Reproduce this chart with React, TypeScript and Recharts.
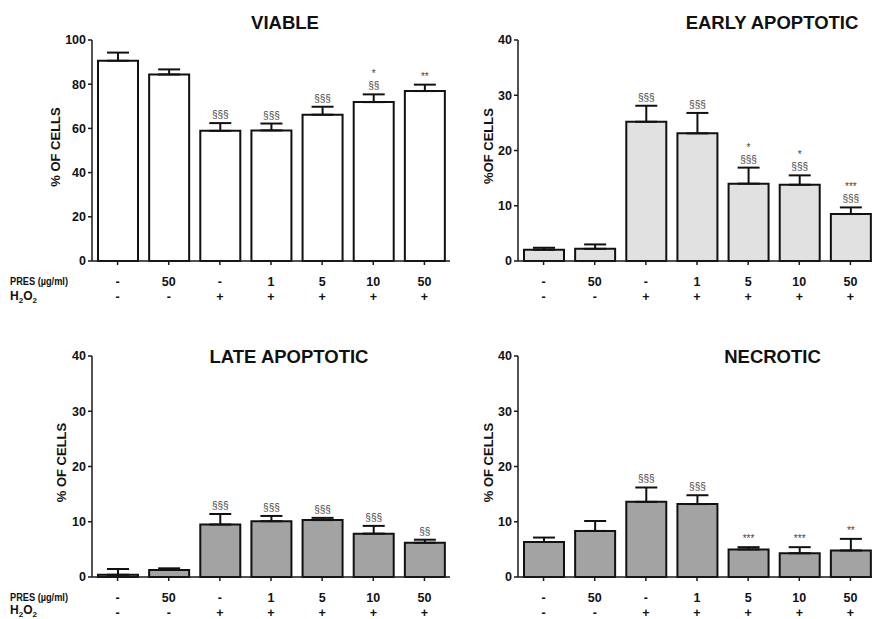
import React from "react";
import { BarChart, Bar, XAxis, YAxis, ErrorBar, LabelList } from "recharts";

// x categories
const groups = ["g1", "g2", "g3", "g4", "g5", "g6", "g7"];
const presLabels = ["-", "50", "-", "1", "5", "10", "50"];
const h2o2Labels = ["-", "-", "+", "+", "+", "+", "+"];

// VIABLE
const viableMean = [90.6, 84.4, 58.9, 59.1, 66.2, 71.9, 76.9];
const viableSem = [3.7, 2.3, 3.5, 3.1, 3.6, 3.5, 2.9];
const viableNotes = [[], [], ["§§§"], ["§§§"], ["§§§"], ["*", "§§"], ["**"]];

// EARLY APOPTOTIC
const earlyMean = [2.05, 2.2, 25.2, 23.1, 14.0, 13.8, 8.5];
const earlySem = [0.35, 0.8, 2.9, 3.7, 2.9, 1.7, 1.2];
const earlyNotes = [[], [], ["§§§"], ["§§§"], ["*", "§§§"], ["*", "§§§"], ["***", "§§§"]];

// LATE APOPTOTIC
const lateMean = [0.4, 1.27, 9.5, 10.1, 10.3, 7.85, 6.2];
const lateSem = [1.05, 0.3, 1.9, 0.95, 0.4, 1.4, 0.55];
const lateNotes = [[], [], ["§§§"], ["§§§"], ["§§§"], ["§§§"], ["§§"]];

// NECROTIC
const necroticMean = [6.34, 8.34, 13.6, 13.2, 5.0, 4.3, 4.8];
const necroticSem = [0.8, 1.8, 2.6, 1.6, 0.4, 1.1, 2.1];
const necroticNotes = [[], [], ["§§§"], ["§§§"], ["***"], ["***"], ["**"]];

const ticks100 = [0, 20, 40, 60, 80, 100];
const ticks40 = [0, 10, 20, 30, 40];

const FONT = '"Liberation Sans", Arial, Helvetica, sans-serif';
const AXIS = "#1a1a1a";

interface PanelProps {
  mean: number[];
  sem: number[];
  notes: string[][];
  fill: string;
  yMax: number;
  ticks: number[];
  left: number;
  top: number;
}

const Panel: React.FC<PanelProps> = ({ mean, sem, notes, fill, yMax, ticks, left, top }) => {
  const data = groups.map((g, i) => ({
    group: g,
    mean: mean[i],
    err: [0, sem[i]],
    note: notes[i].join(" "),
  }));

  // significance marks sit just above the error bar cap
  const renderNote = (props: any) => {
    const vb = props.viewBox || props;
    const idx = props.index;
    const lines = notes[idx] || [];
    if (!lines.length) return null;
    const ppu = vb.height / mean[idx];
    const errTop = vb.y - sem[idx] * ppu;
    const cx = vb.x + vb.width / 2;
    return (
      <g>
        {lines.map((t, k) => (
          <text
            key={k}
            x={cx}
            y={errTop - 5 - (lines.length - 1 - k) * 12}
            textAnchor="middle"
            fontSize={10}
            fill="#444"
            fontFamily={FONT}
          >
            {t}
          </text>
        ))}
      </g>
    );
  };

  const renderTick = (p: any) => (
    <g>
      <text x={p.x} y={p.y + 21} textAnchor="middle" fontSize={12.5} fontWeight={700} fill="#111" fontFamily={FONT}>
        {presLabels[p.index]}
      </text>
      <text x={p.x} y={p.y + 36} textAnchor="middle" fontSize={12.5} fontWeight={700} fill="#111" fontFamily={FONT}>
        {h2o2Labels[p.index]}
      </text>
    </g>
  );

  return (
    <div style={{ position: "absolute", left, top }}>
      <BarChart
        width={428}
        height={281}
        data={data}
        margin={{ top: 10, right: 10, left: 0, bottom: 0 }}
        barCategoryGap={0}
        barSize={40}
      >
        <XAxis
          dataKey="group"
          height={50}
          tickSize={4}
          tickMargin={0}
          stroke={AXIS}
          strokeWidth={1.5}
          tick={renderTick}
          interval={0}
        />
        <YAxis
          width={60}
          domain={[0, yMax]}
          ticks={ticks}
          tickSize={4}
          tickMargin={2}
          stroke={AXIS}
          strokeWidth={1.5}
          tick={{ fill: "#111", fontSize: 12.5, fontWeight: 700, fontFamily: FONT }}
        />
        <Bar dataKey="mean" fill={fill} stroke="#111" strokeWidth={2} isAnimationActive={false}>
          <ErrorBar dataKey="err" width={11} stroke="#111" strokeWidth={2} direction="y" />
          <LabelList dataKey="note" content={renderNote} />
        </Bar>
      </BarChart>
    </div>
  );
};

const titles = ["VIABLE", "EARLY APOPTOTIC", "LATE APOPTOTIC", "NECROTIC"];
const yLabels = ["% OF CELLS", "%OF CELLS", "% OF CELLS", "% OF CELLS"];

const RowLabels: React.FC<{ y: number; y2: number }> = ({ y, y2 }) => (
  <g fontFamily={FONT} fontWeight={700} fill="#111">
    <text x={10} y={y} fontSize={11} textLength={58} lengthAdjust="spacingAndGlyphs">
      PRES (µg/ml)
    </text>
    <text x={10} y={y2} fontSize={12}>
      H<tspan dy={2.5} fontSize={8}>2</tspan>
      <tspan dy={-2.5}>O</tspan>
      <tspan dy={2.5} fontSize={8}>2</tspan>
    </text>
  </g>
);

export default function App() {
  return (
    <div
      style={{
        position: "absolute",
        left: 0,
        top: 0,
        width: 872,
        height: 619,
        overflow: "hidden",
        background: "#fff",
        fontFamily: FONT,
      }}
    >
      <Panel mean={viableMean} sem={viableSem} notes={viableNotes} fill="#ffffff" yMax={100} ticks={ticks100} left={32} top={29.5} />
      <Panel mean={earlyMean} sem={earlySem} notes={earlyNotes} fill="#e1e1e1" yMax={40} ticks={ticks40} left={458} top={29.5} />
      <Panel mean={lateMean} sem={lateSem} notes={lateNotes} fill="#a3a3a3" yMax={40} ticks={ticks40} left={31.5} top={346} />
      <Panel mean={necroticMean} sem={necroticSem} notes={necroticNotes} fill="#a3a3a3" yMax={40} ticks={ticks40} left={458} top={346} />

      <svg width={872} height={619} style={{ position: "absolute", left: 0, top: 0, pointerEvents: "none" }}>
        <g fontFamily={FONT} fontWeight={700} fill="#111" fontSize={18.5} textAnchor="middle">
          <text x={285} y={29}>{titles[0]}</text>
          <text x={772} y={29}>{titles[1]}</text>
          <text x={289} y={363}>{titles[2]}</text>
          <text x={772.5} y={363}>{titles[3]}</text>
        </g>
        <g fontFamily={FONT} fontWeight={700} fill="#111" fontSize={13} textAnchor="middle" dominantBaseline="central">
          <text transform="translate(55,147) rotate(-90)">{yLabels[0]}</text>
          <text transform="translate(488,146) rotate(-90)">{yLabels[1]}</text>
          <text transform="translate(61.5,462.5) rotate(-90)">{yLabels[2]}</text>
          <text transform="translate(488,462.5) rotate(-90)">{yLabels[3]}</text>
        </g>
        <RowLabels y={285} y2={300} />
        <RowLabels y={600.5} y2={614} />
      </svg>
    </div>
  );
}
